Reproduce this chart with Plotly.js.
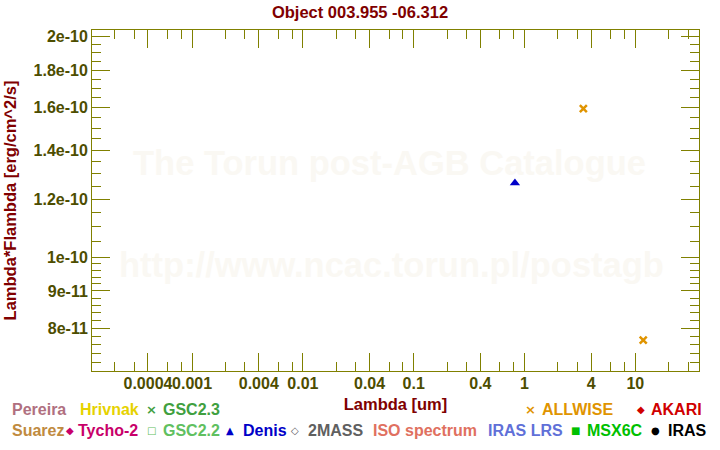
<!DOCTYPE html>
<html><head><meta charset="utf-8">
<script src="https://cdn.plot.ly/plotly-3.0.1.min.js"></script>
<style>html,body{margin:0;padding:0;background:#fff}#chart{width:720px;height:450px}</style>
</head><body><div id="chart"></div>
<script>
// ---- data ----
const denisWavelength = [0.82];
const denisFlux = [1.263e-10];
const allwiseWavelength = [3.4, 11.8];
const allwiseFlux = [1.595e-10, 7.71e-11];

// ---- tick labels ----
const xTickVals = [0.0004, 0.001, 0.004, 0.01, 0.04, 0.1, 0.4, 1, 4, 10];
const xTickText = ['0.0004', '0.001', '0.004', '0.01', '0.04', '0.1', '0.4', '1', '4', '10'];
const xMinorVals = [2e-4, 3e-4, 6e-4, 8e-4, 2e-3, 3e-3, 6e-3, 8e-3, 0.02, 0.03, 0.06, 0.08,
                    0.2, 0.3, 0.6, 0.8, 2, 3, 6, 8, 20, 30];
const yTickVals = [8e-11, 9e-11, 1e-10, 1.2e-10, 1.4e-10, 1.6e-10, 1.8e-10, 2e-10];
const yTickText = ['8e-11', '9e-11', '1e-10', '1.2e-10', '1.4e-10', '1.6e-10', '1.8e-10', '2e-10'];
const yMinorVals = [7.2e-11, 7.4e-11, 7.6e-11, 7.8e-11, 8.2e-11, 8.4e-11, 8.6e-11, 8.8e-11,
                    9.2e-11, 9.4e-11, 9.6e-11, 9.8e-11, 1.05e-10, 1.1e-10, 1.15e-10,
                    1.25e-10, 1.3e-10, 1.35e-10, 1.45e-10, 1.5e-10, 1.55e-10,
                    1.65e-10, 1.7e-10, 1.75e-10, 1.85e-10, 1.9e-10, 1.95e-10];

// ---- catalogue key (text labels under the chart) ----
const keyNames   = ['Pereira', 'Hrivnak', 'GSC2.3', 'ALLWISE', 'AKARI',
                    'Suarez', 'Tycho-2', 'GSC2.2', 'Denis', '2MASS', 'ISO spectrum', 'IRAS LRS', 'MSX6C', 'IRAS'];
const keySymbols = ['', '', '×', '×', '◆', '', '◆', '□', '▲', '◇', '', '', '■', '●'];
const keyColors  = ['#b07080', '#e6d200', '#40a040', '#e09400', '#d00000',
                    '#c08a40', '#c8006a', '#60c060', '#0000c8', '#606060', '#e07060', '#6070d8', '#00c000', '#000000'];

// layout of the key (pixel positions)
const keyRow   = [0, 0, 0, 0, 0, 1, 1, 1, 1, 1, 1, 1, 1, 1];
const keyTextX = [10, 78, 161, 540, 649, 10, 76, 161, 240.5, 306, 370.5, 486, 585, 665.5];
const keySymX  = [0, 0, 151, 530, 641, 0, 69.5, 151, 230, 294.5, 0, 0, 575.3, 655];
const rowY = [410, 430];

const FONT = 'Liberation Sans, Arial, Helvetica, sans-serif';
const W = 720, H = 450;

const annotations = [];
// watermark
annotations.push({text: 'The Torun post-AGB Catalogue', xref: 'paper', yref: 'paper',
  x: (389.5 - 92) / 607, y: (371 - 163) / 341.5, xanchor: 'center', yanchor: 'middle', showarrow: false,
  font: {family: FONT, size: 34.5, color: '#faf8f3', weight: 'bold'}});
annotations.push({text: 'http://www.ncac.torun.pl/postagb', xref: 'paper', yref: 'paper',
  x: (391 - 92) / 607, y: (371 - 265) / 341.5, xanchor: 'center', yanchor: 'middle', showarrow: false,
  font: {family: FONT, size: 34.5, color: '#faf8f3', weight: 'bold'}});

for (let i = 0; i < keyNames.length; i++) {
  annotations.push({text: keyNames[i], xref: 'paper', yref: 'paper', x: 0, y: 0,
    _px: keyTextX[i], _py: rowY[keyRow[i]], xanchor: 'left', yanchor: 'middle', showarrow: false,
    font: {family: FONT, size: 16, color: keyColors[i], weight: 'bold'}});
  if (keySymbols[i]) {
    annotations.push({text: keySymbols[i], xref: 'paper', yref: 'paper', x: 0, y: 0,
      _px: keySymX[i], _py: rowY[keyRow[i]], xanchor: 'center', yanchor: 'middle', showarrow: false,
      font: {family: 'DejaVu Sans, sans-serif', size: keySymbols[i] === '×' ? 13 : 10, color: keyColors[i], weight: 'bold'}});
  }
}
// convert pixel positions to paper coordinates
const L = 92, R = 21, T = 30, B = 79;
const pw = W - L - R, ph = H - T - B;
annotations.forEach(a => {
  if (a._px !== undefined) {
    a.x = (a._px - L) / pw;
    a.y = (H - B - a._py) / ph;
    delete a._px; delete a._py;
  }
});

const traces = [
  {x: denisWavelength, y: denisFlux, type: 'scatter', mode: 'markers', name: 'Denis',
   marker: {symbol: 'triangle-up', size: 9, color: '#0000c8', line: {width: 0}}},
  {x: allwiseWavelength, y: allwiseFlux, type: 'scatter', mode: 'markers', name: 'ALLWISE',
   marker: {symbol: 'x-thin-open', size: 7, color: '#e09400', line: {width: 2.5, color: '#e09400'}}}
];

const olive = '#808000';
const tickFont = {family: FONT, size: 16, color: '#4d4d00', weight: 'bold'};
const titleFont = {family: FONT, size: 16.5, color: '#800000', weight: 'bold'};

const layout = {
  width: W, height: H,
  margin: {l: L, r: R, t: T, b: B, pad: 0},
  paper_bgcolor: '#ffffff', plot_bgcolor: '#ffffff',
  showlegend: false,
  title: {text: 'Object 003.955 -06.312', x: 0.5, xref: 'container', xanchor: 'center',
          y: 1 - 12 / H, yref: 'container', yanchor: 'middle', font: titleFont},
  xaxis: {type: 'log', range: [Math.log10(1.25e-4), Math.log10(37.6)], autorange: false,
    tickmode: 'array', tickvals: xTickVals, ticktext: xTickText, tickangle: 0,
    ticks: 'inside', ticklen: 18, tickwidth: 1, tickcolor: olive, ticklabelstandoff: -2,
    showline: true, linecolor: olive, linewidth: 1, mirror: 'allticks',
    showgrid: false, zeroline: false, tickfont: tickFont,
    minor: {tickmode: 'array', tickvals: xMinorVals, ticks: 'inside', ticklen: 9, tickwidth: 1, tickcolor: olive, showgrid: false},
    title: {text: 'Lambda [um]', font: titleFont, standoff: 7}},
  yaxis: {type: 'log', range: [Math.log10(7.0e-11), Math.log10(2.041e-10)], autorange: false,
    tickmode: 'array', tickvals: yTickVals, ticktext: yTickText,
    ticks: 'inside', ticklen: 18, tickwidth: 1, tickcolor: olive,
    showline: true, linecolor: olive, linewidth: 1, mirror: 'allticks',
    showgrid: false, zeroline: false, tickfont: tickFont,
    minor: {tickmode: 'array', tickvals: yMinorVals, ticks: 'inside', ticklen: 9, tickwidth: 1, tickcolor: olive, showgrid: false},
    title: {text: 'Lambda*Flambda [erg/cm^2/s]', font: titleFont, standoff: 12}},
  annotations: annotations
};

Plotly.newPlot('chart', traces, layout, {staticPlot: true, displayModeBar: false});
</script>
</body></html>
